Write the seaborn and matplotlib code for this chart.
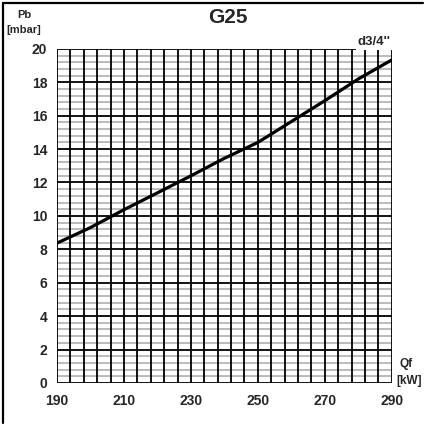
import numpy as np
import pandas as pd
import matplotlib
matplotlib.use('Agg')
import matplotlib.pyplot as plt
import seaborn as sns
from matplotlib.lines import Line2D

# === Data ===
qf_kw = [190, 200, 210, 220, 230, 240, 250, 260, 270, 280, 290]
pb_mbar = [8.37, 9.3, 10.37, 11.38, 12.4, 13.45, 14.4, 15.65, 16.9, 18.2, 19.34]
x_ticks = [190, 210, 230, 250, 270, 290]
y_ticks = [0, 2, 4, 6, 8, 10, 12, 14, 16, 18, 20]
series_label = "d3/4''"
gas = "G25"

sns.set_style('white')
plt.rcParams['font.family'] = ['Liberation Sans', 'DejaVu Sans']

fig = plt.figure(figsize=(4.25, 4.25), dpi=100)
ax = fig.add_axes([0.134, 0.099, 0.788, 0.786])

df = pd.DataFrame({'Qf': qf_kw, 'Pb': pb_mbar})

ax.set_xlim(190, 290)
ax.set_ylim(0, 20)

# grid: gray minor rows, black major rows, black columns every 4 kW
for v in np.arange(0, 20.01, 0.4):
    if abs(v / 2 - round(v / 2)) > 1e-6:
        ax.axhline(v, color='#a8a8a8', lw=1.1, zorder=1)
for v in y_ticks:
    ax.axhline(v, color='black', lw=1.3, zorder=2)
for v in np.arange(190, 290.01, 4):
    ax.axvline(v, color='black', lw=1.3, zorder=2)

sns.lineplot(data=df, x='Qf', y='Pb', color='black', lw=2.3, ax=ax, zorder=5)

for s in ax.spines.values():
    s.set_visible(False)

ax.set_xticks(x_ticks)
ax.set_yticks(y_ticks)
ax.tick_params(axis='both', length=4, width=1.2, color='black', pad=3,
               labelsize=10)
ax.tick_params(axis='x', pad=4)
for lab in ax.get_xticklabels() + ax.get_yticklabels():
    lab.set_fontweight('bold')
ax.set_xlabel('')
ax.set_ylabel('')

# series label with white box covering the top grid line
ax.text(0.997, 1.004, series_label, transform=ax.transAxes, ha='right',
        va='bottom', fontsize=9.5, fontweight='bold', zorder=6,
        bbox=dict(facecolor='white', edgecolor='none', pad=1.5))

fig.text(0.537, 0.958, gas, ha='center', va='center', fontsize=15,
         fontweight='bold')
fig.text(0.057, 0.965, 'Pb', ha='center', va='center', fontsize=8,
         fontweight='bold')
fig.text(0.057, 0.93, '[mbar]', ha='center', va='center', fontsize=8,
         fontweight='bold')
fig.text(0.955, 0.143, 'Qf', ha='center', va='center', fontsize=8.5,
         fontweight='bold')
fig.text(0.963, 0.103, '[kW]', ha='center', va='center', fontsize=8.5,
         fontweight='bold')

# outer frame (top and left)
fig.add_artist(Line2D([0.007, 0.995], [0.993, 0.993], color='black', lw=1.6,
                      transform=fig.transFigure))
fig.add_artist(Line2D([0.007, 0.007], [0.005, 0.993], color='black', lw=1.6,
                      transform=fig.transFigure))

fig.savefig('out.png', dpi=100)
